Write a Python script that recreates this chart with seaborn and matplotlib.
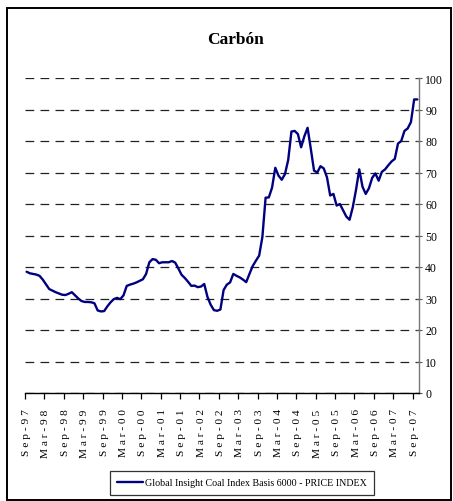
import numpy as np
import pandas as pd
import matplotlib
matplotlib.use("Agg")
import matplotlib.pyplot as plt
import seaborn as sns
from matplotlib.patches import Rectangle

# Monthly index level, Sep-97 .. Oct-07
values = [
    38.5, 38.0, 37.8, 37.6, 37.2, 36.0, 34.5, 33.0, 32.5, 32.0,
    31.6, 31.2, 31.1, 31.5, 32.0, 31.0, 30.0, 29.2, 28.9, 28.9,
    28.8, 28.5, 26.2, 25.9, 26.0, 27.5, 28.8, 29.8, 30.2, 29.8,
    31.0, 34.0, 34.4, 34.7, 35.1, 35.6, 36.1, 37.8, 41.5, 42.5,
    42.3, 41.2, 41.5, 41.5, 41.5, 41.9, 41.4, 39.5, 37.5, 36.5,
    35.3, 34.0, 34.1, 33.6, 33.8, 34.6, 30.5, 28.0, 26.3, 26.1,
    26.5, 32.7, 34.4, 35.1, 37.8, 37.2, 36.7, 36.0, 35.2, 37.8,
    40.3, 42.0, 43.6, 49.5, 62.0, 62.1, 65.2, 71.5, 69.0, 67.7,
    69.5, 74.0, 83.0, 83.2, 82.2, 78.0, 81.5, 84.2, 77.5, 70.6,
    70.0, 72.0, 71.3, 68.5, 62.7, 63.2, 59.5, 60.0, 58.0, 56.0,
    55.0, 59.0, 64.5, 71.0, 65.5, 63.2, 65.0, 68.3, 69.7, 67.4,
    70.2, 71.0, 72.3, 73.5, 74.3, 79.2, 80.0, 83.2, 84.0, 86.0,
    93.2, 93.2,
]

tick_labels = [
    "Sep-97", "Mar-98", "Sep-98", "Mar-99", "Sep-99", "Mar-00", "Sep-00",
    "Mar-01", "Sep-01", "Mar-02", "Sep-02", "Mar-03", "Sep-03", "Mar-04",
    "Sep-04", "Mar-05", "Sep-05", "Mar-06", "Sep-06", "Mar-07", "Sep-07",
]
y_ticks = [0, 10, 20, 30, 40, 50, 60, 70, 80, 90, 100]

series_name = "Global Insight Coal Index Basis 6000 - PRICE INDEX"
title = "Carbón"

sns.set_theme(style="white")
plt.rcParams["font.family"] = ["Liberation Serif", "DejaVu Serif"]
plt.rcParams["text.color"] = "black"
plt.rcParams["xtick.labelcolor"] = "black"
plt.rcParams["ytick.labelcolor"] = "black"

W, H = 453, 502
fig = plt.figure(figsize=(W / 100, H / 100), dpi=100)
fig.patch.set_facecolor("white")

x0, x1, y_top, y_bot = 25, 419, 79, 394
ax = fig.add_axes([x0 / W, 1 - y_bot / H, (x1 - x0) / W, (y_bot - y_top) / H])

df = pd.DataFrame({"month": np.arange(len(values)), "value": values})
sns.lineplot(data=df, x="month", y="value", ax=ax, color="#000080",
             linewidth=1.7, label=series_name, legend=False)

n = len(values)
ax.set_xlim(-0.5, n - 0.5)
ax.set_ylim(0, 100)
ax.set_xlabel("")
ax.set_ylabel("")

# right-hand value axis with dashed horizontal gridlines
ax.yaxis.tick_right()
ax.set_yticks(y_ticks)
ax.set_yticklabels([str(v) for v in y_ticks], fontsize=8.5)
ax.tick_params(axis="y", which="major", direction="inout", length=5,
               width=0.8, color="#555555", pad=2, labelcolor="black")
ax.yaxis.grid(True, linestyle=(0, (7.0, 5.0)), color="#222222", linewidth=0.9)
ax.xaxis.grid(False)

# category axis: labels every 6 months, tick marks between categories
label_pos = np.arange(0, n, 6)[:len(tick_labels)]
ax.set_xticks(label_pos)
ax.set_xticklabels([" ".join(t) for t in tick_labels], rotation=90,
                   fontsize=8.2, va="top", ha="center", color="black")
ax.set_xticks(label_pos - 0.5, minor=True)
ax.tick_params(axis="x", which="major", length=0, pad=11)
ax.tick_params(axis="x", which="minor", direction="out", length=4,
               width=0.9, color="black", bottom=True)

for side in ("left", "top"):
    ax.spines[side].set_visible(False)
ax.spines["bottom"].set_color("black")
ax.spines["bottom"].set_linewidth(1.0)
ax.spines["right"].set_color("#777777")
ax.spines["right"].set_linewidth(1.0)

fig.text(235 / W, 1 - 40 / H, title, ha="center", va="center",
         fontsize=12.5, fontweight="bold", color="black")

line = ax.lines[0]
leg = fig.legend([line], [series_name], loc="center",
                 bbox_to_anchor=(242 / W, 1 - 484 / H), frameon=True,
                 fancybox=False, edgecolor="black", fontsize=7.2,
                 handlelength=2.6, handletextpad=0.2, borderpad=0.75,
                 borderaxespad=0)
leg.get_frame().set_linewidth(0.9)
for t in leg.get_texts():
    t.set_color("black")

fig.add_artist(Rectangle((7 / W, 1 - 501 / H), (451 - 7) / W, (501 - 9) / H,
                         transform=fig.transFigure, fill=False,
                         edgecolor="black", linewidth=1.4))

fig.savefig("out.png", dpi=100)
